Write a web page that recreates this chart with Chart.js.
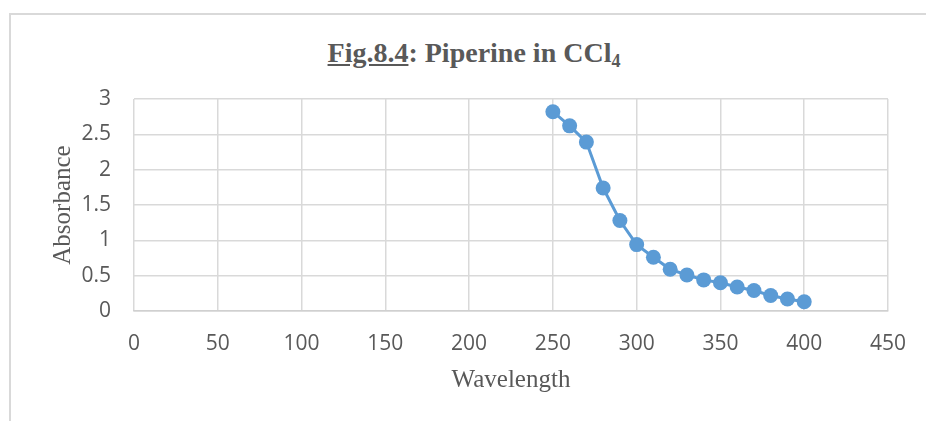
<!DOCTYPE html>
<html>
<head>
<meta charset="utf-8">
<script src="https://cdn.jsdelivr.net/npm/chart.js@4/dist/chart.umd.min.js"></script>
<style>
  html, body { margin: 0; padding: 0; background: #ffffff; }
  #wrap { position: relative; width: 926px; height: 421px; overflow: hidden; }
  #frame { position: absolute; left: 9px; top: 13px; width: 1000px; height: 1000px;
           border-left: 2px solid #d9d9d9; border-top: 2px solid #d9d9d9; }
  #title { position: absolute; left: 0; top: 38px; width: 948px; text-align: center;
           font-family: "Liberation Serif", "Times New Roman", serif; font-weight: bold;
           font-size: 28px; line-height: 30px; color: #595959; }
  #title sub { font-size: 18px; line-height: 0; vertical-align: -5px; }
  #c { position: absolute; left: 0; top: 0; }
</style>
</head>
<body>
<div id="wrap">
  <div id="frame"></div>
  <div id="title"><u>Fig.8.4</u>: Piperine in CCl<sub>4</sub></div>
  <canvas id="c" width="926" height="421"></canvas>
</div>
<script>
// Data
const wavelengths = [250, 260, 270, 280, 290, 300, 310, 320, 330, 340, 350, 360, 370, 380, 390, 400];
const absorbance  = [2.82, 2.62, 2.39, 1.74, 1.28, 0.94, 0.76, 0.59, 0.51, 0.44, 0.40, 0.34, 0.29, 0.22, 0.17, 0.13];
const xTicks = [0, 50, 100, 150, 200, 250, 300, 350, 400, 450];
const yTicks = [0, 0.5, 1, 1.5, 2, 2.5, 3];
const xTitle = "Wavelength";
const yTitle = "Absorbance";

const points = wavelengths.map((w, i) => ({ x: w, y: absorbance[i] }));
const grey = "#595959";
const gridCol = "#d9d9d9";

new Chart(document.getElementById("c"), {
  type: "scatter",
  data: {
    datasets: [{
      data: points,
      showLine: true,
      borderColor: "#5b9bd5",
      backgroundColor: "#5b9bd5",
      borderWidth: 3,
      pointRadius: 7.5,
      pointHoverRadius: 7.5,
      pointBorderWidth: 0,
      tension: 0
    }]
  },
  options: {
    responsive: false,
    animation: false,
    devicePixelRatio: 1,
    layout: { padding: { top: 99, right: 33, bottom: 0, left: 0 } },
    plugins: { legend: { display: false }, tooltip: { enabled: false }, title: { display: false } },
    scales: {
      x: {
        type: "linear",
        min: xTicks[0], max: xTicks[xTicks.length - 1],
        afterBuildTicks: s => { s.ticks = xTicks.map(v => ({ value: v })); },
        afterFit: s => { s.height = 110; },
        grid: { color: gridCol, lineWidth: 1.5, drawTicks: false },
        border: { display: true, color: "#d0d0d0", width: 1.5 },
        ticks: { color: grey, padding: 20, maxRotation: 0, callback: v => String(v),
                 font: { family: "'Open Sans', sans-serif", size: 21 } },
        title: { display: true, text: xTitle, color: grey, padding: { top: 0, bottom: 26 },
                 font: { family: "'Liberation Serif', 'Times New Roman', serif", size: 25 } }
      },
      y: {
        min: yTicks[0], max: yTicks[yTicks.length - 1],
        afterBuildTicks: s => { s.ticks = yTicks.map(v => ({ value: v })); },
        afterFit: s => { s.width = 134; },
        grid: { color: gridCol, lineWidth: 1.5, drawTicks: false },
        border: { display: false },
        ticks: { color: grey, padding: 23, callback: v => String(v),
                 font: { family: "'Open Sans', sans-serif", size: 21 } },
        title: { display: true, text: yTitle, color: grey, padding: { top: 48, bottom: 0 },
                 font: { family: "'Liberation Serif', 'Times New Roman', serif", size: 25 } }
      }
    }
  }
});
</script>
</body>
</html>
